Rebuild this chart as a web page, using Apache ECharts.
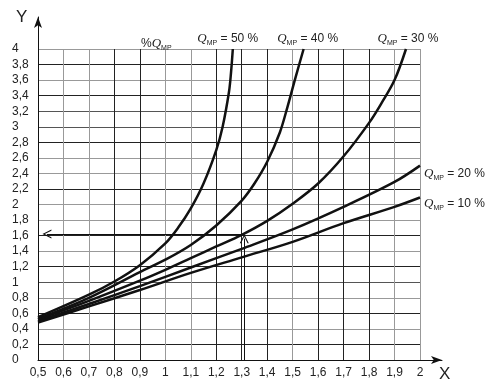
<!DOCTYPE html>
<html><head><meta charset="utf-8">
<script src="https://cdn.jsdelivr.net/npm/echarts/dist/echarts.min.js"></script>
<style>html,body{margin:0;padding:0;background:#fff}#c{width:498px;height:392px}</style>
</head><body><div id="c"></div>
<script>
const xTickLabels = ['0,5','0,6','0,7','0,8','0,9','1','1,1','1,2','1,3','1,4','1,5','1,6','1,7','1,8','1,9','2'];
const yTickLabels = ['0','0,2','0,4','0,6','0,8','1','1,2','1,4','1,6','1,8','2','2,2','2,4','2,6','2,8','3','3,2','3,4','3,6','3,8','4'];

const q10x = [0.5, 0.7, 0.9, 1.1, 1.3, 1.5, 1.7, 1.9, 2.0];
const q10y = [0.48, 0.69, 0.90, 1.12, 1.32, 1.52, 1.76, 1.97, 2.09];
const q20x = [0.5, 0.7, 0.9, 1.1, 1.3, 1.5, 1.7, 1.9, 2.0];
const q20y = [0.50, 0.72, 0.95, 1.19, 1.43, 1.68, 1.97, 2.29, 2.50];
const q30x = [0.5, 0.7, 0.9, 1.0, 1.1, 1.2, 1.3, 1.4, 1.5, 1.6, 1.7, 1.8, 1.85, 1.9, 1.945];
const q30y = [0.52, 0.76, 1.02, 1.16, 1.31, 1.46, 1.61, 1.79, 2.01, 2.27, 2.62, 3.05, 3.31, 3.6, 4.0];
const q40x = [0.5, 0.7, 0.9, 1.0, 1.1, 1.2, 1.3, 1.35, 1.4, 1.45, 1.48, 1.51, 1.543];
const q40y = [0.53, 0.80, 1.13, 1.29, 1.48, 1.73, 2.05, 2.27, 2.55, 2.93, 3.26, 3.62, 4.0];
const q50x = [0.5, 0.7, 0.8, 0.9, 1.0, 1.05, 1.1, 1.15, 1.2, 1.225, 1.25, 1.258, 1.265];
const q50y = [0.55, 0.84, 1.01, 1.22, 1.50, 1.70, 1.95, 2.27, 2.70, 3.0, 3.45, 3.7, 4.0];

const readX = 1.31, readY = 1.62;

const vGridColors = ['#222','#999','#999','#222','#222','#999','#999','#222','#222','#222','#999','#222','#222','#222','#999','#999'];
const hGridColors = ['#222','#222','#999','#222','#999','#555','#222','#999','#222','#999','#999','#222','#999','#999','#222','#555','#555','#222','#999','#222','#999'];

const zip = (xs, ys) => xs.map((x, i) => [x, ys[i]]);
const rich = {
  p: {fontFamily: 'Liberation Sans', fontSize: 12, fontWeight: 'normal', color: '#222', lineHeight: 16},
  q: {fontFamily: 'Liberation Serif', fontStyle: 'italic', fontWeight: 'normal', fontSize: 13, color: '#222', lineHeight: 16},
  s: {fontFamily: 'Liberation Sans', fontSize: 7, fontWeight: 'normal', color: '#222', lineHeight: 16, verticalAlign: 'bottom'},
  t: {fontFamily: 'Liberation Sans', fontSize: 12, fontWeight: 'normal', color: '#222', lineHeight: 16}
};
const lbl = pct => '{q|Q}{s|MP}{t| = ' + pct + ' %}';
const chevron = 'path://M0,10L5,0L10,10L8.6,10L5,2.6L1.4,10Z';

function curve(name, xs, ys, endLabel, extra) {
  return Object.assign({
    type: 'line', name: name, data: zip(xs, ys),
    xAxisIndex: 0, yAxisIndex: 0,
    smooth: 0.35, showSymbol: false, symbol: 'none',
    lineStyle: {color: '#111', width: 2.5},
    endLabel: Object.assign({show: true, formatter: lbl(name), rich: rich}, endLabel),
    z: 5
  }, extra || {});
}

const chart = echarts.init(document.getElementById('c'), null, {renderer: 'canvas'});
chart.setOption({
  animation: false,
  backgroundColor: '#fff',
  title: {
    text: '{p|%}{q|Q}{s|MP}', left: 136, top: 31,
    textStyle: {fontWeight: 'normal', rich: rich}
  },
  graphic: [
    {type: 'text', left: 16, top: 9, style: {text: 'Y', font: '17px "Liberation Sans"', fill: '#222'}},
    {type: 'text', left: 439, top: 366, style: {text: 'X', font: '17px "Liberation Sans"', fill: '#222'}}
  ],
  grid: [
    {left: 38, right: 78, top: 49, bottom: 32},
    {left: 38, right: 56, top: 17, bottom: 32}
  ],
  xAxis: [
    {
      type: 'value', gridIndex: 0, min: 0.5, max: 2, interval: 0.1,
      axisLine: {show: false}, axisTick: {show: false},
      axisLabel: {
        margin: 7, color: '#222', fontFamily: 'Liberation Sans', fontSize: 12,
        formatter: v => xTickLabels[Math.round((v - 0.5) / 0.1)]
      },
      splitLine: {show: true, lineStyle: {color: vGridColors, width: 1}}
    },
    {
      type: 'value', gridIndex: 1, min: 0, max: 1,
      axisLine: {show: true, symbol: ['none', 'arrow'], symbolSize: [6, 11], lineStyle: {color: '#111', width: 1}},
      axisTick: {show: false}, axisLabel: {show: false}, splitLine: {show: false}
    }
  ],
  yAxis: [
    {
      type: 'value', gridIndex: 0, min: 0, max: 4, interval: 0.2,
      axisLine: {show: false}, axisTick: {show: false},
      axisLabel: {
        margin: 26, align: 'left', color: '#222', fontFamily: 'Liberation Sans', fontSize: 12,
        formatter: v => yTickLabels[Math.round(v / 0.2)]
      },
      splitLine: {show: true, lineStyle: {color: hGridColors, width: 1}}
    },
    {
      type: 'value', gridIndex: 1, min: 0, max: 1,
      axisLine: {show: true, symbol: ['none', 'arrow'], symbolSize: [6, 11], lineStyle: {color: '#111', width: 1}},
      axisTick: {show: false}, axisLabel: {show: false}, splitLine: {show: false}
    }
  ],
  series: [
    curve('10', q10x, q10y, {align: 'left', verticalAlign: 'middle', distance: 4, offset: [0, 6]}),
    curve('20', q20x, q20y, {align: 'left', verticalAlign: 'middle', distance: 4, offset: [0, 8]}),
    curve('30', q30x, q30y, {align: 'center', verticalAlign: 'bottom', distance: 0, offset: [2, -2]}, {
      markLine: {
        silent: true, symbol: ['none', chevron], symbolSize: [9, 9],
        label: {show: false},
        lineStyle: {color: '#111', width: 1, type: 'solid'},
        data: [
          [{coord: [readX, 0]}, {coord: [readX, 1.56]}],
          [{coord: [readX, readY]}, {coord: [0.535, readY]}]
        ]
      }
    }),
    curve('40', q40x, q40y, {align: 'center', verticalAlign: 'bottom', distance: 0, offset: [4, -2]}),
    curve('50', q50x, q50y, {align: 'center', verticalAlign: 'bottom', distance: 0, offset: [-5, -2]})
  ]
});
</script>
</body></html>
